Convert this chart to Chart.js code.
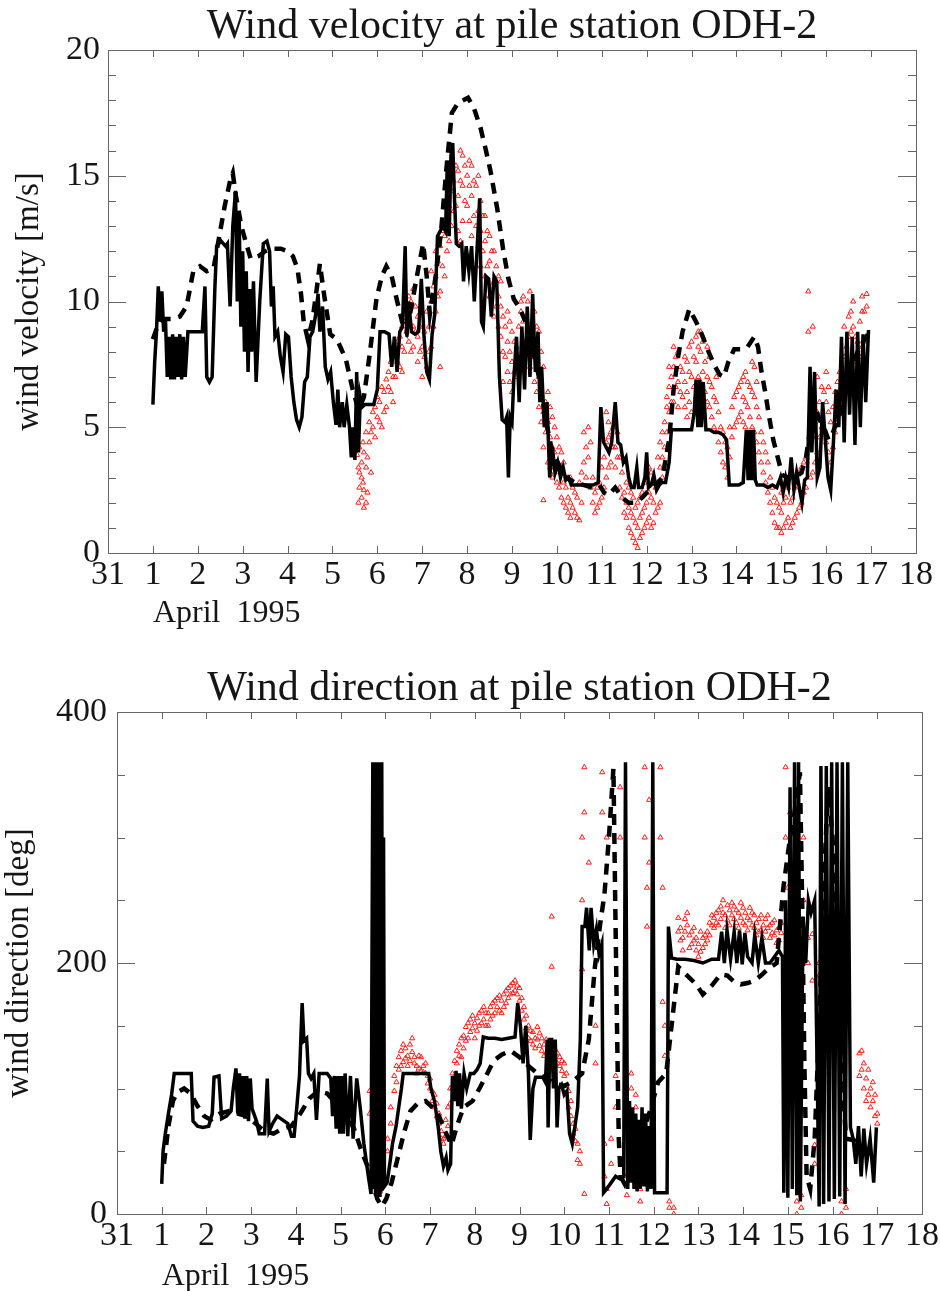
<!DOCTYPE html>
<html>
<head>
<meta charset="utf-8">
<script src="https://cdn.jsdelivr.net/npm/chart.js@4/dist/chart.umd.min.js"></script>
<style>
  html, body { margin: 0; padding: 0; background: #fff; }
  .plot { position: absolute; left: 0; }
  #velChart { top: 0; }
  #dirChart { top: 640px; }
</style>
</head>
<body>
<canvas id="velChart" class="plot" width="940" height="640"></canvas>
<canvas id="dirChart" class="plot" width="940" height="651"></canvas>
<script>
// x axis: day of month, 0 = 31 March
const dayLabels = ['31','1','2','3','4','5','6','7','8','9','10','11','12','13','14','15','16','17','18'];

// ---- wind velocity [m/s] ----
// measured at the pile (solid)
const velObs = [
  [1.00,5.9],[1.04,7.6],[1.08,8.8],[1.12,10.6],[1.16,9.2],[1.20,10.4],[1.24,8.8],[1.28,9.3],
  [1.32,7.0],[1.36,8.6],[1.40,6.9],[1.44,8.7],[1.48,6.9],[1.52,8.6],[1.56,7.0],[1.60,8.7],[1.64,6.9],[1.68,8.6],[1.72,7.0],[1.78,8.8],
  [1.95,8.8],[2.10,8.8],[2.16,10.6],[2.20,7.0],[2.26,6.8],[2.32,7.0],[2.38,10.5],[2.42,12.2],[2.52,12.4],[2.62,12.2],[2.66,12.3],
  [2.72,9.8],[2.78,13.0],[2.84,14.4],[2.88,10.0],[2.92,13.6],[2.96,9.0],[3.00,12.0],[3.04,8.0],[3.08,11.2],[3.12,7.2],[3.16,10.5],
  [3.20,8.0],[3.24,10.8],[3.30,6.8],[3.38,10.0],[3.46,12.3],[3.54,12.4],[3.60,12.0],[3.64,9.8],[3.68,10.6],[3.72,8.6],[3.78,8.8],
  [3.84,7.8],[3.90,7.2],[3.96,8.7],[4.02,8.6],[4.08,7.0],[4.14,6.0],[4.20,5.3],[4.26,5.0],[4.32,5.4],[4.38,6.8],[4.44,7.0],[4.50,8.6],
  [4.56,8.8],[4.62,9.4],[4.68,10.3],[4.72,8.8],[4.78,9.8],[4.84,7.4],[4.90,6.9],[4.96,7.2],[5.02,6.0],[5.08,5.1],[5.12,6.5],[5.16,5.0],
  [5.22,6.0],[5.26,5.0],[5.32,5.9],[5.38,5.0],[5.42,3.8],[5.46,5.0],[5.50,3.7],[5.54,7.2],[5.58,4.0],[5.62,6.2],[5.66,5.8],[5.72,5.9],
  [5.82,5.9],[5.92,5.9],[6.00,6.5],[6.06,8.8],[6.16,8.8],[6.26,8.7],[6.32,7.4],[6.38,8.6],[6.44,7.2],[6.50,8.8],[6.56,9.0],[6.62,12.2],
  [6.66,8.6],[6.70,10.0],[6.76,8.8],[6.84,8.7],[6.92,8.8],[6.98,10.9],[7.04,8.6],[7.10,7.2],[7.16,6.9],[7.22,8.7],[7.28,9.5],[7.34,12.6],
  [7.40,12.8],[7.46,13.0],[7.52,12.8],[7.56,15.6],[7.60,12.6],[7.64,15.8],[7.68,16.3],[7.72,14.0],[7.76,12.3],[7.82,12.2],[7.88,12.3],
  [7.92,10.8],[7.98,12.2],[8.04,11.2],[8.10,12.2],[8.16,10.0],[8.22,12.0],[8.28,14.1],[8.32,9.2],[8.36,9.0],[8.42,11.0],[8.48,10.9],
  [8.54,9.4],[8.60,11.0],[8.66,10.8],[8.72,7.0],[8.78,5.3],[8.84,5.2],[8.88,5.4],[8.92,3.0],[8.96,5.4],[9.00,5.2],
  [9.04,6.9],[9.10,8.6],[9.16,6.0],[9.22,9.0],[9.28,6.5],[9.34,9.8],[9.40,7.0],[9.46,10.3],[9.52,7.2],[9.58,8.8],[9.62,6.0],[9.66,7.4],
  [9.72,5.0],[9.78,6.0],[9.84,3.0],[9.90,4.2],[9.96,3.2],[10.02,3.6],[10.08,3.0],[10.14,3.4],[10.20,2.9],[10.26,3.0],[10.32,2.7],
  [10.40,2.7],[10.50,2.7],[10.60,2.7],[10.70,2.7],[10.80,2.7],[10.92,2.8],[10.98,5.8],[11.04,4.4],[11.10,4.2],[11.16,4.0],[11.22,4.4],
  [11.30,6.0],[11.36,4.4],[11.42,4.3],[11.48,3.6],[11.54,3.8],[11.60,3.0],[11.66,2.6],[11.72,2.6],[11.78,3.4],[11.82,2.6],[11.90,2.6],
  [11.96,3.0],[12.00,4.0],[12.04,2.6],[12.10,2.7],[12.16,3.1],[12.22,2.5],[12.28,2.7],[12.34,2.8],[12.42,2.8],[12.50,3.6],[12.55,4.9],
  [12.70,4.9],[12.85,4.9],[13.00,4.9],[13.06,5.6],[13.10,6.9],[13.14,5.0],[13.18,6.9],[13.22,5.0],[13.26,6.8],[13.32,4.9],[13.40,4.9],
  [13.50,4.8],[13.60,4.8],[13.70,4.7],[13.78,4.5],[13.84,2.7],[13.95,2.7],[14.05,2.7],[14.15,2.8],[14.22,4.9],[14.26,2.9],[14.30,4.9],
  [14.34,2.9],[14.38,4.9],[14.42,2.9],[14.46,2.7],[14.60,2.7],[14.70,2.6],[14.80,2.7],[14.90,2.6],[14.98,3.0],[15.04,2.4],[15.10,3.0],
  [15.16,2.6],[15.22,3.8],[15.28,2.5],[15.34,3.2],[15.40,2.6],[15.46,2.0],[15.52,2.9],[15.58,3.0],[15.64,7.4],[15.68,4.0],[15.74,7.2],
  [15.80,3.0],[15.86,3.4],[15.92,6.0],[15.98,4.5],[16.04,3.0],[16.10,2.5],[16.16,4.4],[16.22,6.5],[16.28,5.0],[16.34,8.6],[16.40,4.4],
  [16.46,8.8],[16.52,5.5],[16.58,8.6],[16.64,4.3],[16.70,8.8],[16.76,5.0],[16.82,8.7],[16.88,6.0],[16.94,8.8],[16.98,8.8]
];
// model (dashed)
const velModel = [
  [1.00,8.5],[1.10,9.0],[1.25,9.3],[1.45,9.3],[1.60,9.4],[1.75,9.8],[1.90,11.2],[2.05,11.4],[2.20,11.2],[2.35,11.3],[2.48,12.6],
  [2.60,13.8],[2.72,14.8],[2.78,15.1],[2.85,14.2],[2.97,13.0],[3.08,12.3],[3.18,11.7],[3.35,11.8],[3.50,12.0],[3.65,12.1],[3.85,12.1],
  [4.00,12.0],[4.12,11.8],[4.22,11.3],[4.30,10.3],[4.36,9.2],[4.45,8.5],[4.55,9.2],[4.65,10.5],[4.72,11.5],[4.82,10.2],[4.95,8.7],
  [5.10,8.5],[5.30,7.7],[5.45,6.5],[5.58,5.7],[5.70,6.2],[5.83,7.9],[5.98,10.1],[6.10,11.0],[6.20,11.4],[6.32,11.0],[6.43,10.1],
  [6.55,9.2],[6.65,8.8],[6.76,9.8],[6.87,10.9],[7.02,12.3],[7.10,11.0],[7.17,9.5],[7.30,11.0],[7.42,12.8],[7.55,15.5],[7.66,17.5],
  [7.80,17.9],[8.02,18.1],[8.15,17.7],[8.30,16.9],[8.42,16.0],[8.52,15.2],[8.67,13.7],[8.80,12.1],[8.92,10.9],[9.04,10.1],[9.18,9.7],
  [9.30,9.2],[9.45,8.2],[9.60,7.0],[9.75,5.3],[9.90,4.0],[10.05,3.5],[10.20,3.0],[10.40,2.8],[10.60,2.7],[10.80,2.6],[10.95,2.7],
  [11.05,2.4],[11.15,2.3],[11.30,2.6],[11.45,2.2],[11.60,2.0],[11.75,2.0],[11.90,2.2],[12.05,2.5],[12.20,2.7],[12.35,3.0],[12.50,4.5],
  [12.60,6.5],[12.70,7.8],[12.80,8.8],[12.95,9.7],[13.10,9.2],[13.25,8.6],[13.38,8.0],[13.50,7.5],[13.62,7.1],[13.72,7.0],[13.82,7.6],
  [13.95,8.1],[14.10,8.1],[14.25,8.2],[14.40,8.6],[14.48,8.2],[14.55,7.3],[14.65,6.3],[14.72,5.5],[14.82,4.5],[14.92,3.8],[15.02,3.1],
  [15.15,3.0],[15.30,3.0],[15.45,3.2],[15.55,3.8],[15.65,5.0],[15.75,5.8],[15.85,5.3],[15.95,5.0],[16.05,4.5],[16.15,4.8],[16.30,5.5],
  [16.45,6.8],[16.60,7.6],[16.75,8.2],[16.90,8.6],[16.98,8.9]
];
// comparison samples (red triangles): [day, [values]]
const velBuoy = [
  [5.55,[4.6,3.9]],[5.60,[3.2,2.6,4.2]],[5.65,[2.2,3.0,3.6]],[5.70,[1.8,2.5,4.0]],[5.75,[2.0,3.4,4.8]],[5.82,[4.4,5.2]],
  [5.90,[5.0,5.6]],[6.00,[5.4,6.2]],[6.10,[5.0,6.6]],[6.20,[5.8,6.9]],[6.30,[6.4,7.6]],[6.40,[7.0,8.0]],[6.50,[7.4,8.6]],
  [6.60,[8.0,9.2]],[6.70,[8.4,9.6,10.2]],[6.80,[8.2,9.0,10.5]],[6.90,[7.6,8.6,9.4]],[7.00,[7.0,8.2]],[7.10,[7.4,9.6]],
  [7.20,[8.2,10.0,11.2]],[7.30,[9.6,11.0,12.0]],[7.40,[10.4,12.2,7.4]],[7.50,[11.0,12.6]],[7.60,[12.4,13.8]],[7.70,[13.6,14.8]],
  [7.80,[14.2,15.2,12.8]],[7.90,[13.2,14.6,15.8]],[8.00,[13.8,15.0,11.8]],[8.10,[12.6,14.2,15.4]],[8.20,[13.0,14.6]],
  [8.30,[11.4,12.8,14.0]],[8.40,[11.0,12.4,13.4]],[8.50,[10.2,11.6,12.6]],[8.60,[9.4,10.8,12.0]],[8.70,[9.0,10.2,11.0]],
  [8.80,[8.0,9.4,6.8]],[8.90,[7.2,8.4,9.6]],[9.00,[6.4,7.6,8.8]],[9.10,[7.0,8.2]],[9.20,[7.8,9.6,10.0]],[9.30,[8.4,9.4]],
  [9.40,[7.4,8.8,10.4]],[9.50,[6.8,8.2,9.6]],[9.60,[5.8,7.0,8.8]],[9.70,[2.1,4.2,5.6,7.4]],[9.80,[3.6,5.2,6.4]],[9.90,[3.0,4.2,5.4]],
  [10.00,[2.8,3.6,4.6]],[10.10,[2.2,3.2,4.0]],[10.20,[1.8,2.6]],[10.30,[1.4,2.0,3.0]],[10.40,[1.6,2.4]],[10.50,[1.3,2.8]],
  [10.60,[3.6,4.8]],[10.70,[3.8,5.0]],[10.80,[2.0,3.0]],[10.90,[1.8,2.6]],[11.00,[2.2,3.4]],[11.10,[3.0,4.4,5.6]],[11.20,[3.6,4.8]],
  [11.30,[3.4,4.2,5.2]],[11.40,[2.6,3.8]],[11.50,[1.6,2.4]],[11.60,[1.0,1.8,2.6]],[11.70,[0.6,1.4,2.2]],[11.80,[0.2,1.0,2.0]],
  [11.90,[0.8,1.6,2.4]],[12.00,[1.2,2.0,3.0]],[12.10,[1.0,2.2,3.2]],[12.20,[1.6,2.6]],[12.30,[2.0,3.4,4.4]],[12.40,[4.2,5.2]],
  [12.50,[5.6,6.6,7.4]],[12.60,[6.0,7.4,8.2]],[12.70,[5.8,6.8,8.0]],[12.80,[6.2,7.2]],[12.90,[5.4,6.4,7.6]],[13.00,[5.6,7.0,8.4]],
  [13.10,[6.2,7.6,8.6]],[13.20,[6.8,8.0,8.8]],[13.30,[6.4,7.6]],[13.40,[5.8,6.8,7.8]],[13.50,[5.0,6.2]],[13.60,[4.4,5.6]],
  [13.70,[3.6,4.8]],[13.80,[3.0,4.2]],[13.90,[4.6,5.8]],[14.00,[5.2,6.4]],[14.10,[5.6,6.8]],[14.20,[5.0,6.0,7.2]],[14.30,[5.4,6.6]],
  [14.40,[4.8,6.2,7.4]],[14.50,[4.0,5.4]],[14.60,[3.2,4.4]],[14.70,[2.4,3.6]],[14.80,[1.6,2.6]],[14.90,[1.0,2.0]],
  [15.00,[0.8,1.6,2.4]],[15.10,[1.2,2.2]],[15.20,[1.0,2.0,3.0]],[15.30,[1.4,2.6]],[15.40,[1.8,3.2]],[15.50,[2.4,3.6]],
  [15.60,[8.8,10.4]],[15.70,[3.2,4.6,9.0]],[15.80,[4.0,5.6,7.0]],[15.90,[5.0,6.6]],[16.00,[4.4,6.0,7.2]],[16.10,[3.6,5.2]],
  [16.20,[4.8,6.4]],[16.30,[5.6,7.2]],[16.40,[6.4,7.8,9.0]],[16.50,[7.2,8.6,9.4]],[16.60,[7.6,9.0,10.0]],[16.70,[6.8,8.4]],
  [16.80,[8.2,9.6,10.2]],[16.90,[8.6,9.8,10.3]],
  [5.58,[3.4,2.0]],[5.68,[2.8,4.4]],[5.78,[2.4,3.8]],[5.86,[4.8,3.2]],[5.95,[5.8,4.6]],[6.05,[6.0,5.2]],[6.15,[5.6,6.4]],
  [6.25,[6.6,7.2]],[6.35,[7.0,6.0]],[6.45,[7.6,8.4]],[6.55,[8.2,7.2,9.0]],[6.65,[8.8,9.8]],[6.75,[9.0,10.0,8.0]],[6.85,[8.8,9.8]],
  [6.95,[8.0,9.0]],[7.05,[7.8,8.8]],[7.15,[8.0,9.0]],[7.25,[9.0,10.6]],[7.35,[10.2,11.6]],[7.45,[11.4,12.8]],[7.55,[12.0,13.2]],
  [7.65,[13.0,14.4,15.2]],[7.75,[13.8,15.4]],[7.85,[14.8,12.4,16.0]],[7.95,[14.0,15.4]],[8.05,[13.2,14.6,15.6]],[8.15,[13.4,14.8]],
  [8.25,[12.2,13.6,15.0]],[8.35,[12.0,13.4]],[8.45,[11.4,12.8]],[8.55,[10.6,12.0]],[8.65,[9.8,11.4]],[8.75,[8.6,9.8,10.8]],
  [8.85,[7.8,9.0]],[8.95,[6.8,8.0,9.2]],[9.05,[7.2,8.4]],[9.15,[7.6,9.0]],[9.25,[8.0,9.2,10.2]],[9.35,[8.0,9.0,10.0]],
  [9.45,[7.8,9.2]],[9.55,[6.4,7.8,9.0]],[9.65,[5.2,6.6,8.0]],[9.75,[4.8,6.0]],[9.85,[3.4,4.6,5.8]],[9.95,[3.2,4.0,5.0]],
  [10.05,[2.6,3.4,4.2]],[10.15,[2.0,2.8,3.6]],[10.25,[1.6,2.2,3.0]],[10.35,[1.8,2.6]],[10.45,[1.4,2.2]],[10.55,[2.0,3.2]],
  [10.65,[4.2,3.0]],[10.75,[4.4,2.6]],[10.85,[2.4,1.6]],[10.95,[2.0,2.8]],[11.05,[2.6,3.8]],[11.15,[3.4,4.6,5.2]],[11.25,[4.2,5.0]],
  [11.35,[3.8,4.8]],[11.45,[2.2,3.2]],[11.55,[1.4,2.0,2.8]],[11.65,[0.8,1.6,2.4]],[11.75,[0.4,1.2,1.8]],[11.85,[0.6,1.4,2.2]],
  [11.95,[1.0,1.8,2.8]],[12.05,[1.4,2.4,3.4]],[12.15,[1.2,2.0,2.8]],[12.25,[1.8,2.8,3.8]],[12.35,[3.0,3.8,4.8]],
  [12.45,[4.8,5.8,6.2]],[12.55,[6.0,7.0]],[12.65,[6.6,7.8]],[12.75,[6.4,7.4]],[12.85,[5.8,6.8,7.8]],[12.95,[6.0,7.2,8.2]],
  [13.05,[6.6,7.8]],[13.15,[7.0,8.2,8.8]],[13.25,[7.2,8.4]],[13.35,[6.0,7.0,8.2]],[13.45,[5.4,6.6]],[13.55,[4.8,6.0,7.0]],
  [13.65,[4.0,5.0]],[13.75,[3.4,4.4]],[13.85,[3.8,5.0]],[13.95,[5.0,6.2]],[14.05,[5.4,6.6]],[14.15,[5.2,6.2,7.0]],[14.25,[5.8,6.8]],
  [14.35,[5.0,6.4,7.6]],[14.45,[4.4,5.8,6.8]],[14.55,[3.6,4.8]],[14.65,[2.8,4.0]],[14.75,[2.0,3.0]],[14.85,[1.2,2.2]],
  [14.95,[1.0,1.8,2.8]],[15.05,[1.0,2.0]],[15.15,[1.4,2.6]],[15.25,[1.2,2.2]],[15.35,[1.6,2.8]],[15.45,[2.0,3.4]],[15.55,[2.6,3.8]],
  [15.65,[3.0,4.2]],[15.75,[3.6,5.2]],[15.85,[4.6,6.0]],[15.95,[4.8,6.4]],[16.05,[4.0,5.6,6.6]],[16.15,[4.2,5.8]],[16.25,[5.2,6.8]],
  [16.35,[6.0,7.4]],[16.45,[6.8,8.2]],[16.55,[7.4,8.8,9.6]],[16.65,[7.2,8.6]],[16.75,[7.8,9.2]],[16.85,[8.4,9.6]]
];

// ---- wind direction [deg] ----
const dirObs = [
  [1.00,24],[1.03,50],[1.08,64],[1.15,80],[1.22,95],[1.28,112],[1.40,112],[1.55,112],[1.66,112],[1.70,74],[1.80,70],[1.92,69],
  [2.05,70],[2.13,80],[2.17,109],[2.28,110],[2.34,76],[2.45,78],[2.55,82],[2.60,100],[2.66,116],[2.70,80],[2.74,112],[2.78,78],
  [2.82,110],[2.86,76],[2.90,110],[2.94,74],[2.98,108],[3.02,84],[3.06,80],[3.12,74],[3.18,64],[3.24,64],[3.30,64],[3.36,108],
  [3.40,66],[3.48,72],[3.58,78],[3.66,76],[3.74,74],[3.82,72],[3.90,62],[3.96,62],[4.02,85],[4.08,110],[4.14,168],[4.18,138],
  [4.24,140],[4.28,112],[4.34,108],[4.40,112],[4.46,75],[4.52,112],[4.60,112],[4.70,112],[4.78,108],[4.82,78],[4.86,110],[4.90,68],
  [4.94,110],[4.98,64],[5.02,110],[5.06,64],[5.10,112],[5.16,62],[5.22,110],[5.28,60],[5.36,108],[5.44,84],[5.52,56],[5.62,30],
  [5.68,16],[5.72,360],[5.74,20],[5.76,360],[5.78,15],[5.80,360],[5.82,20],[5.84,360],[5.86,15],[5.88,360],[5.90,18],[5.92,360],
  [5.94,20],[5.96,300],[5.98,22],[6.04,25],[6.10,40],[6.16,56],[6.24,70],[6.30,85],[6.36,100],[6.40,112],[6.55,112],[6.70,112],
  [6.85,112],[6.97,112],[7.02,100],[7.10,90],[7.18,70],[7.24,50],[7.30,38],[7.36,45],[7.40,35],[7.46,40],[7.50,110],[7.54,90],
  [7.58,114],[7.62,86],[7.66,112],[7.70,84],[7.76,112],[7.82,100],[7.90,112],[7.98,112],[8.05,115],[8.12,120],[8.19,141],[8.30,140],
  [8.45,140],[8.60,139],[8.75,140],[8.90,141],[8.96,168],[9.02,150],[9.08,120],[9.14,150],[9.20,112],[9.24,59],[9.30,100],[9.36,109],
  [9.44,109],[9.52,109],[9.58,105],[9.62,139],[9.64,69],[9.68,139],[9.72,139],[9.76,100],[9.80,139],[9.84,69],[9.88,100],[9.94,103],
  [10.00,95],[10.06,98],[10.12,64],[10.18,56],[10.24,70],[10.30,85],[10.36,139],[10.40,229],[10.46,229],[10.50,244],[10.56,210],
  [10.60,244],[10.66,215],[10.72,227],[10.78,207],[10.84,215],[10.88,17],[10.95,20],[11.05,25],[11.15,30],[11.25,28],[11.33,30],
  [11.37,360],[11.42,20],[11.46,90],[11.50,25],[11.53,85],[11.56,20],[11.60,80],[11.63,18],[11.66,75],[11.70,20],[11.74,85],
  [11.78,22],[11.82,80],[11.86,18],[11.90,70],[11.94,20],[11.98,360],[12.02,17],[12.10,17],[12.20,17],[12.30,17],[12.33,229],
  [12.40,204],[12.52,203],[12.70,203],[12.90,202],[13.10,200],[13.30,203],[13.45,203],[13.52,225],[13.58,200],[13.64,226],[13.72,203],
  [13.80,225],[13.86,200],[13.92,226],[13.98,199],[14.04,224],[14.10,205],[14.20,200],[14.26,222],[14.34,200],[14.42,220],[14.50,200],
  [14.60,200],[14.70,205],[14.80,210],[14.88,205],[14.91,17],[14.95,250],[15.00,13],[15.05,340],[15.10,20],[15.15,360],[15.20,15],
  [15.24,360],[15.28,10],[15.34,237],[15.40,200],[15.46,250],[15.52,240],[15.60,250],[15.70,6],[15.74,357],[15.80,8],[15.86,357],
  [15.92,10],[15.98,360],[16.04,12],[16.10,360],[16.16,14],[16.22,360],[16.28,8],[16.34,360],[16.40,69],[16.46,60],[16.52,40],
  [16.58,70],[16.64,30],[16.70,68],[16.76,40],[16.84,60],[16.92,25],[16.98,69]
];
const dirModel = [
  [1.05,40],[1.15,70],[1.25,90],[1.35,97],[1.50,100],[1.65,96],[1.80,86],[1.95,78],[2.10,75],[2.30,80],[2.50,82],[2.70,80],
  [2.90,78],[3.10,72],[3.30,66],[3.50,64],[3.70,68],[3.90,70],[4.10,80],[4.30,92],[4.50,98],[4.70,96],[4.90,88],[5.10,80],
  [5.30,68],[5.45,52],[5.60,38],[5.72,25],[5.82,12],[5.92,6],[6.02,12],[6.14,25],[6.28,45],[6.42,65],[6.56,82],[6.72,88],
  [6.90,90],[7.05,85],[7.20,78],[7.35,65],[7.48,55],[7.60,70],[7.75,85],[7.95,90],[8.12,101],[8.28,112],[8.42,122],[8.60,127],
  [8.80,130],[9.00,125],[9.20,118],[9.40,112],[9.60,108],[9.80,104],[10.00,102],[10.20,106],[10.40,112],[10.55,139],[10.68,195],
  [10.80,230],[10.90,255],[11.00,300],[11.10,355],[11.14,250],[11.18,150],[11.22,60],[11.26,30],[11.35,24],[11.50,40],[11.70,60],
  [11.90,80],[12.10,105],[12.28,112],[12.40,150],[12.55,197],[12.75,190],[12.95,183],[13.10,175],[13.30,182],[13.50,191],[13.65,190],
  [13.80,185],[13.95,183],[14.10,184],[14.25,186],[14.40,190],[14.55,195],[14.75,200],[14.90,260],[15.05,300],[15.15,320],[15.27,352],
  [15.32,250],[15.37,120],[15.42,30],[15.50,20],[15.60,60],[15.70,150],[15.80,260],[15.90,340],[16.00,300],[16.10,200],[16.20,120],
  [16.30,60],[16.47,59],[16.70,52],[16.85,48],[17.00,50]
];
const dirBuoy = [
  [5.65,[98,80]],[5.72,[72,60]],[5.80,[30,22]],[5.88,[18,28]],[5.95,[40,30]],[6.05,[60,50]],[6.12,[72,85]],[6.20,[98,110]],
  [6.30,[115,125]],[6.40,[121,135]],[6.50,[126,118]],[6.60,[129,140]],[6.70,[118,112]],[6.80,[114,125]],[6.90,[112,120]],
  [7.00,[108,100]],[7.10,[95,85]],[7.20,[80,72]],[7.30,[60,56]],[7.40,[70,85]],[7.50,[100,112]],[7.60,[120,130]],[7.70,[125,140]],
  [7.80,[138,149]],[7.90,[145,155]],[8.00,[140,152]],[8.10,[150,160]],[8.20,[155,165]],[8.30,[150,160]],[8.40,[158,168]],
  [8.50,[165,172]],[8.60,[160,170]],[8.70,[168,178]],[8.80,[175,182]],[8.90,[178,186]],[9.00,[180,170]],[9.10,[165,155]],
  [9.20,[150,140]],[9.30,[145,135]],[9.40,[149,139]],[9.50,[140,130]],[9.60,[139,128]],[9.72,[237,197,126]],[9.80,[131,120]],
  [9.90,[125,118]],[10.00,[120,110]],[10.10,[98,85]],[10.20,[72,64]],[10.30,[56,43]],[10.40,[195,250,300]],[10.45,[356,320,16]],
  [10.55,[280,230]],[10.70,[150,120]],[10.85,[352,320]],[10.90,[56,30]],[10.95,[300,8,20]],[11.05,[40,60]],[11.15,[85,110]],
  [11.25,[300,340]],[11.40,[30,15]],[11.50,[112,100]],[11.60,[85,95]],[11.70,[20,10]],[11.80,[356,300]],[11.85,[229,260]],
  [11.90,[330,280]],[12.15,[356,300]],[12.20,[260,169]],[12.25,[126,150]],[12.35,[5,10]],[12.45,[0,5]],[12.55,[236,225]],
  [12.65,[220,210]],[12.75,[230,240]],[12.85,[215,225]],[12.95,[210,220]],[13.05,[209,225]],[13.15,[215,222]],[13.30,[230,238]],
  [13.40,[240,232]],[13.50,[245,235]],[13.60,[238,228]],[13.70,[242,230]],[13.80,[235,245]],[13.90,[240,228]],[14.00,[244,232]],
  [14.10,[236,226]],[14.20,[240,230]],[14.30,[232,222]],[14.40,[238,226]],[14.50,[225,235]],[14.60,[230,220]],[14.70,[222,234]],
  [14.80,[228,218]],[14.95,[356,300]],[15.00,[260,240]],[15.05,[320,280]],[15.20,[10,0]],[15.30,[5,15]],[15.35,[300,250]],
  [15.45,[220,200]],[15.55,[223,186]],[15.60,[40,55]],[15.70,[200,190]],[16.20,[0,10]],[16.30,[5,20]],[16.60,[110,128]],
  [16.70,[120,100]],[16.80,[115,95]],[16.90,[90,105]],[17.00,[80,72]],
  [6.25,[105,118]],[6.35,[118,130]],[6.45,[124,132]],[6.55,[122,135]],[6.65,[125,120]],[6.75,[116,126]],[6.85,[113,118]],
  [6.95,[110,104]],[7.05,[98,90]],[7.15,[88,78]],[7.25,[66,60]],[7.35,[62,75]],[7.45,[88,100]],[7.55,[110,122]],[7.65,[126,135]],
  [7.75,[132,142]],[7.85,[140,152]],[7.95,[148,158]],[8.05,[146,156]],[8.15,[152,162]],[8.25,[150,160]],[8.35,[155,165]],
  [8.45,[160,170]],[8.55,[162,174]],[8.65,[165,175]],[8.75,[172,180]],[8.85,[176,184]],[8.95,[182,175]],[9.05,[172,162]],
  [9.15,[158,148]],[9.25,[146,138]],[9.35,[140,132]],[9.45,[144,134]],[9.55,[135,126]],[9.65,[134,124]],[9.85,[128,120]],
  [9.95,[122,114]],[10.05,[112,102]],[10.15,[90,78]],[10.25,[68,58]],[10.35,[50,40]],
  [12.60,[228,218]],[12.70,[235,225]],[12.80,[222,212]],[12.90,[218,228]],[13.00,[215,205]],[13.10,[220,212]],[13.20,[225,218]],
  [13.25,[232,222]],[13.35,[236,228]],[13.45,[242,230]],[13.55,[240,250]],[13.65,[234,246]],[13.75,[238,248]],[13.85,[232,242]],
  [13.95,[236,248]],[14.05,[240,230]],[14.15,[234,244]],[14.25,[228,238]],[14.35,[235,225]],[14.45,[230,220]],[14.55,[228,238]],
  [14.65,[224,232]],[14.75,[226,216]],[14.85,[224,232]],
  [16.65,[115,130]],[16.75,[108,90]],[16.85,[100,85]],[16.95,[95,78]]
];

const serif = "'Liberation Serif', 'Times New Roman', serif";
const ink = '#161616';

const toXY = pairs => pairs.map(p => ({ x: p[0], y: p[1] }));
const cloud = groups => groups.flatMap(g => g[1].map(v => ({ x: g[0], y: v })));

// IDL style box: inward ticks on all four sides + date under the axis
const idlFrame = {
  id: 'idlFrame',
  afterDatasetsDraw(chart, args, opts) {
    const { ctx, chartArea: a, scales: { x, y } } = chart;
    ctx.save();
    ctx.strokeStyle = '#666';
    ctx.lineWidth = 1;
    ctx.strokeRect(a.left + 0.5, a.top + 0.5, a.right - a.left, a.bottom - a.top);
    ctx.beginPath();
    x.ticks.forEach(t => {
      const px = Math.round(x.getPixelForValue(t.value)) + 0.5;
      ctx.moveTo(px, a.bottom); ctx.lineTo(px, a.bottom - 7);
      ctx.moveTo(px, a.top); ctx.lineTo(px, a.top + 7);
    });
    y.ticks.forEach(t => {
      const py = Math.round(y.getPixelForValue(t.value)) + 0.5;
      const len = t.value % opts.major === 0 ? 18 : 8;
      ctx.moveTo(a.left, py); ctx.lineTo(a.left + len, py);
      ctx.moveTo(a.right, py); ctx.lineTo(a.right - len, py);
    });
    ctx.stroke();
    ctx.fillStyle = ink;
    ctx.font = '32px ' + serif;
    ctx.textAlign = 'left';
    ctx.textBaseline = 'alphabetic';
    ctx.fillText('April  1995', x.getPixelForValue(1), opts.dateY);
    ctx.restore();
  }
};

function makePlot(id, o) {
  return new Chart(document.getElementById(id), {
    type: 'line',
    data: {
      datasets: [
        { data: toXY(o.obs), borderColor: '#000', borderWidth: 3.5, pointRadius: 0, tension: 0 },
        { data: toXY(o.model), borderColor: '#000', borderWidth: 4.5, borderDash: [11, 8], pointRadius: 0, tension: 0 },
        { data: cloud(o.buoy), showLine: false, pointStyle: 'triangle', pointRadius: 3,
          borderColor: '#ff1a1a', borderWidth: 1, backgroundColor: 'rgba(255,0,0,0)' }
      ]
    },
    options: {
      responsive: false,
      animation: false,
      events: [],
      layout: { padding: { left: 0, right: o.padRight, top: 0, bottom: 0 } },
      plugins: {
        legend: { display: false },
        tooltip: { enabled: false },
        title: {
          display: true, text: o.title, fullSize: false, color: ink,
          font: { family: serif, size: 42, weight: 'normal', lineHeight: 1 },
          padding: o.titlePad
        },
        idlFrame: { major: o.major, dateY: o.dateY }
      },
      scales: {
        x: {
          type: 'linear', min: 0, max: 18,
          grid: { display: false, drawTicks: false }, border: { display: false },
          ticks: { stepSize: 1, autoSkip: false, maxRotation: 0, padding: 5, color: ink,
                   font: { family: serif, size: 34, lineHeight: 1 },
                   callback: v => dayLabels[v] },
          afterFit: s => { s.height = o.xHeight; s.paddingLeft = 0; s.paddingRight = 0; }
        },
        y: {
          min: 0, max: o.yMax,
          grid: { display: false, drawTicks: false }, border: { display: false },
          ticks: { stepSize: o.minor, autoSkip: false, padding: o.yPad, color: ink,
                   font: { family: serif, size: 34, lineHeight: 1 },
                   callback: v => (v % o.major === 0 ? String(v) : '') },
          title: { display: true, text: o.yTitle, color: ink,
                   font: { family: serif, size: 33, lineHeight: 1 },
                   padding: { top: o.yTitlePad, bottom: 0 } },
          afterFit: s => { s.width = o.yWidth; s.paddingTop = 0; s.paddingBottom = 0; }
        }
      }
    },
    plugins: [idlFrame]
  });
}

makePlot('velChart', {
  obs: velObs, model: velModel, buoy: velBuoy,
  title: 'Wind velocity at pile station ODH-2',
  titlePad: { top: 6, bottom: 2 },
  yTitle: 'wind velocity [m/s]', yTitlePad: 13,
  yMax: 20, major: 5, minor: 1, yPad: 8,
  yWidth: 108, xHeight: 87, padRight: 24, dateY: 622
});

makePlot('dirChart', {
  obs: dirObs, model: dirModel, buoy: dirBuoy,
  title: 'Wind direction at pile station ODH-2',
  titlePad: { top: 28, bottom: 2 },
  yTitle: 'wind direction [deg]', yTitlePad: 3,
  yMax: 400, major: 200, minor: 50, yPad: 10,
  yWidth: 117, xHeight: 77, padRight: 18, dateY: 645
});
</script>
</body>
</html>
